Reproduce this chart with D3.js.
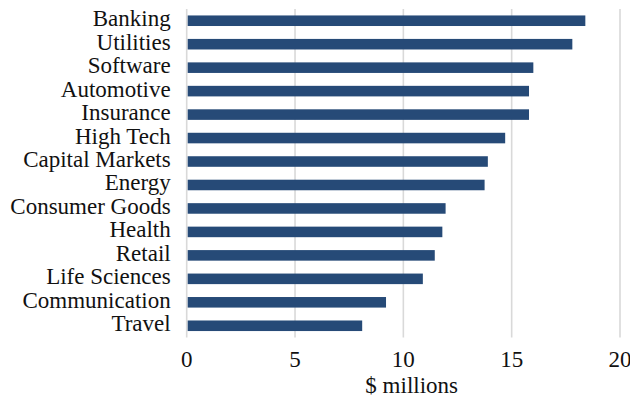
<!DOCTYPE html>
<html>
<head>
<meta charset="utf-8">
<script src="https://cdn.jsdelivr.net/npm/d3@7"></script>
<style>
  html, body { margin: 0; padding: 0; background: #ffffff; }
  svg { display: block; }
  text { font-family: "Liberation Serif", "Times New Roman", serif; fill: #111; }
</style>
</head>
<body>
<svg id="chart" width="630" height="399"></svg>
<script>
const categories = ["Banking", "Utilities", "Software", "Automotive", "Insurance", "High Tech",
  "Capital Markets", "Energy", "Consumer Goods", "Health", "Retail", "Life Sciences",
  "Communication", "Travel"];
const values = [18.4, 17.8, 16.0, 15.8, 15.8, 14.7, 13.9, 13.75, 11.95, 11.8, 11.45, 10.9, 9.2, 8.1];
const xTicks = [0, 5, 10, 15, 20];
const xTitle = "$ millions";

const svg = d3.select("#chart");
const plotLeft = 186.7, plotRight = 620, plotTop = 9, plotBottom = 337.5;

const x = d3.scaleLinear().domain([0, 20]).range([plotLeft, plotRight]);
const y = d3.scaleBand().domain(categories).range([plotTop, plotBottom])
  .paddingInner(0.55).paddingOuter(0.275);

// gridlines
svg.append("g").selectAll("line").data(xTicks).join("line")
  .attr("x1", d => x(d)).attr("x2", d => x(d))
  .attr("y1", plotTop).attr("y2", plotBottom)
  .attr("stroke", "#d9d9d9").attr("stroke-width", 1.6);

// bars
svg.append("g").selectAll("rect").data(categories).join("rect")
  .attr("x", x(0) + 1)
  .attr("y", d => y(d))
  .attr("width", (d, i) => x(values[i]) - x(0) - 1)
  .attr("height", y.bandwidth())
  .attr("fill", "#264a77");

// category labels
svg.append("g").selectAll("text").data(categories).join("text")
  .attr("x", plotLeft - 16)
  .attr("y", d => y(d) + y.bandwidth() / 2 + 5.5)
  .attr("text-anchor", "end")
  .attr("font-size", 23)
  .text(d => d);

// x tick labels
svg.append("g").selectAll("text").data(xTicks).join("text")
  .attr("x", d => x(d))
  .attr("y", 366.7)
  .attr("text-anchor", "middle")
  .attr("font-size", 23)
  .text(d => d);

// x title
svg.append("text")
  .attr("x", 411.7)
  .attr("y", 393)
  .attr("text-anchor", "middle")
  .attr("font-size", 23)
  .text(xTitle);
</script>
</body>
</html>
